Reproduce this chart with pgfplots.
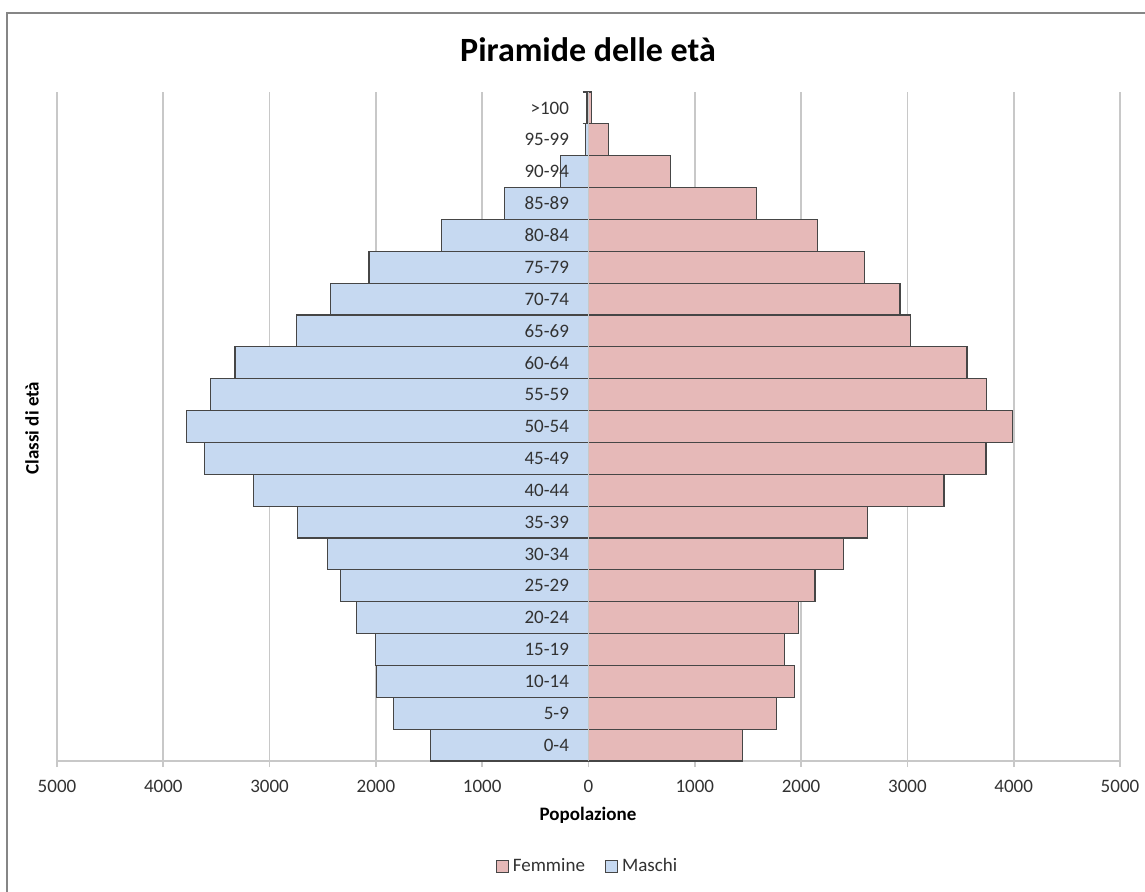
\documentclass[border=0pt]{standalone}
\usepackage{fontspec}
\setmainfont{Carlito}
\usepackage{pgfplots}
\usepackage{pgfplotstable}
\pgfplotsset{compat=1.18}
\definecolor{maschi}{RGB}{198,217,241}
\definecolor{femmine}{RGB}{230,185,184}
\definecolor{barborder}{RGB}{70,70,70}
\definecolor{gridc}{RGB}{200,200,200}
\definecolor{framec}{RGB}{134,134,134}
\definecolor{txt}{RGB}{50,50,50}

\pgfplotstableread{
y m f
0 -1490 1450
1 -1835 1770
2 -1995 1940
3 -2005 1845
4 -2185 1975
5 -2330 2130
6 -2455 2400
7 -2735 2625
8 -3150 3345
9 -3610 3740
10 -3785 3990
11 -3555 3745
12 -3325 3560
13 -2750 3030
14 -2430 2930
15 -2065 2600
16 -1380 2155
17 -790 1580
18 -260 775
19 -25 185
20 -15 25
}\pyr

\pgfplotsset{
  pyrgeom/.style={
    at={(28.5pt,65pt)}, anchor=south west,
    scale only axis, width=531.5pt, height=334.5pt,
    xmin=-5000, xmax=5000, ymin=-0.5, ymax=20.5,
  }
}

\begin{document}
\begin{tikzpicture}
\useasboundingbox (0,0) rectangle (572.5pt,445.5pt);
\clip (0,0) rectangle (572.5pt,445.5pt);
\fill[white] (0,0) rectangle (572.5pt,445.5pt);
\draw[framec, line width=0.9pt] (3.5pt,-10pt) rectangle (600pt,438.8pt);
\begin{axis}[
  pyrgeom,
  xbar, bar width=1, bar shift=0pt,
  axis x line=bottom, axis y line=middle,
  x axis line style={gridc, line width=0.9pt, -},
  y axis line style={gridc, line width=0.9pt, -},
  xtick={-5000,-4000,...,5000},
  xticklabels={5000,4000,3000,2000,1000,0,1000,2000,3000,4000,5000},
  xmajorgrids, grid style={gridc, line width=0.9pt},
  tick align=outside,
  major tick length=3pt,
  xtick style={gridc, line width=0.9pt},
  ytick=\empty,
  tick label style={font=\fontsize{9.5}{11}\selectfont, text=txt},
  x tick label style={yshift=-3pt},
  /pgf/number format/assume math mode=true,
  legend columns=2,
  legend style={at={(0.5,-0.158)}, anchor=center, draw=none, fill=none,
    font=\fontsize{9.5}{11}\selectfont, text=txt,
    /tikz/every even column/.append style={column sep=8pt}},
  legend image code/.code={\draw[#1, draw=barborder, line width=0.6pt] (0pt,-3pt) rectangle (6pt,3pt);},
  clip=false,
]
\addplot[fill=femmine, draw=barborder, line width=0.6pt] table[x=f, y=y] {\pyr};
\addlegendentry{Femmine}
\addplot[fill=maschi, draw=barborder, line width=0.6pt] table[x=m, y=y] {\pyr};
\addlegendentry{Maschi}
\end{axis}
\begin{axis}[
  pyrgeom,
  axis x line=none, axis y line=middle,
  y axis line style={gridc, line width=0.9pt, -},
  xtick=\empty,
  ytick={0,...,20},
  yticklabels={0-4,5-9,10-14,15-19,20-24,25-29,30-34,35-39,40-44,45-49,50-54,55-59,60-64,65-69,70-74,75-79,80-84,85-89,90-94,95-99,>100},
  major y tick style={draw=none},
  minor ytick={-0.5,0.5,...,20.5},
  minor y tick style={draw=barborder, line width=0.6pt},
  tick align=outside,
  minor tick length=3pt,
  tick label style={font=\fontsize{9.5}{11}\selectfont, text=txt},
  y tick label style={anchor=east, xshift=-2pt},
]
\end{axis}
\node[font=\fontsize{17}{20}\selectfont\bfseries] at (294pt,420.5pt) {Piramide delle età};
\node[font=\fontsize{9.5}{11}\selectfont\bfseries, rotate=90] at (16pt,231.5pt) {Classi di età};
\node[font=\fontsize{9.5}{11}\selectfont\bfseries] at (294pt,38pt) {Popolazione};
\end{tikzpicture}
\end{document}
